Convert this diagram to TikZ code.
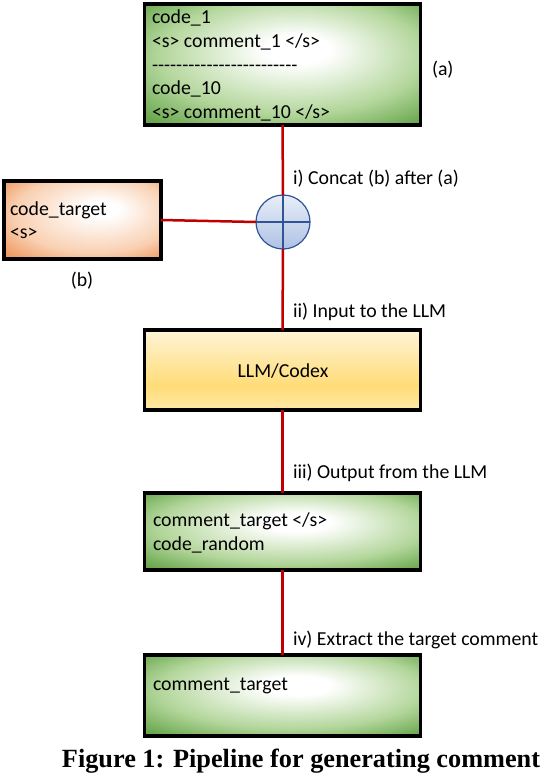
\documentclass[tikz,border=0pt]{standalone}
\usepackage{fontspec}
\setmainfont{Carlito}
\newfontfamily\capfont{Liberation Serif}
\usepackage{graphicx}
\definecolor{gdark}{HTML}{6AA84F}
\definecolor{gmid}{HTML}{B3D69B}
\definecolor{odark}{HTML}{EE9458}
\definecolor{omid}{HTML}{F9D0B2}
\definecolor{ytop}{HTML}{FFF5D6}
\definecolor{ymid}{HTML}{FFDC78}
\definecolor{ybot}{HTML}{FFE9A8}
\definecolor{btop}{HTML}{E8EEF8}
\definecolor{bbot}{HTML}{AFC2E4}
\definecolor{bline}{HTML}{2F5597}
\definecolor{lred}{HTML}{C00000}
\pgfdeclareradialshading{gshade}{\pgfpoint{3bp}{7bp}}{color(0bp)=(white); color(6bp)=(white); color(24bp)=(gmid); color(35bp)=(gdark); color(50bp)=(gdark)}
\pgfdeclareradialshading{oshade}{\pgfpoint{7bp}{8bp}}{color(0bp)=(white); color(5bp)=(white); color(25bp)=(omid); color(37bp)=(odark); color(50bp)=(odark)}
\pgfdeclareverticalshading{yshade}{100bp}{color(0bp)=(ybot); color(25bp)=(ybot); color(40bp)=(ymid); color(75bp)=(ytop); color(100bp)=(ytop)}
\pgfdeclareverticalshading{bshade}{100bp}{color(0bp)=(bbot); color(25bp)=(bbot); color(75bp)=(btop); color(100bp)=(btop)}
\newcommand{\dashrow}{-{}-{}-{}-{}-{}-{}-{}-{}-{}-{}-{}-{}-{}-{}-{}-{}-{}-{}-{}-{}-{}-{}-{}-}
\begin{document}
\begin{tikzpicture}[x=1pt,y=-1pt,
  every node/.style={font=\fontsize{19.8}{23.5}\selectfont, inner sep=0pt, outer sep=0pt},
  boxstyle/.style={draw=black, line width=3.5pt, rectangle, shade},
  link/.style={draw=lred, line width=2.5pt},
  txt/.style={anchor=base west},
  lbl/.style={anchor=base west}]
\useasboundingbox (0,0) rectangle (542,776);
% boxes
\node[boxstyle, shading=gshade, minimum width=276pt, minimum height=121pt] (boxA) at (282.5,64.5) {};
\node[boxstyle, shading=oshade, minimum width=157pt, minimum height=78pt] (boxB) at (82.5,220) {};
\node[draw=bline, line width=1.2pt, circle, shade, shading=bshade, minimum size=54pt] (join) at (283,222) {};
\node[boxstyle, shading=yshade, minimum width=276pt, minimum height=80pt] (llm) at (282.5,370) {};
\node[boxstyle, shading=gshade, minimum width=276pt, minimum height=77pt] (out) at (282.5,531.5) {};
\node[boxstyle, shading=gshade, minimum width=276pt, minimum height=81pt] (res) at (282.5,695.5) {};
% cross in circle
\draw[bline, line width=1.2pt] (join.north) -- (join.south);
\draw[bline, line width=1.2pt] (join.west) -- (join.east);
% connectors
\draw[link] (boxA.south) -- (join.north);
\draw[link] (boxB.east) -- (join.west);
\draw[link] (join.south) -- (llm.north);
\draw[link] (llm.south) -- (out.north);
\draw[link] (out.south) -- (res.north);
% texts in box A
\node[txt] (a1) at (152,24) {code\_1};
\node[txt] (a2) at (152,47.5) {<s> comment\_1 </s>};
\node[txt] (a3) at (152,71) {\dashrow};
\node[txt] (a4) at (152,94.5) {code\_10};
\node[txt] (a5) at (152,118) {<s> comment\_10 </s>};
\node[lbl] (la) at (432,75) {(a)};
% texts in box B
\node[txt] (b1) at (10,215) {code\_target};
\node[txt] (b2) at (10,238) {<s>};
\node[anchor=base] (lb) at (82,286) {(b)};
% step labels
\node[lbl] (s1) at (293,184) {i) Concat (b) after (a)};
\node[lbl] (s2) at (293,317) {ii) Input to the LLM};
\node[anchor=base] (llmtext) at (283,377) {LLM/Codex};
\node[lbl] (s3) at (293,478) {iii) Output from the LLM};
\node[txt] (o1) at (153,526) {comment\_target </s>};
\node[txt] (o2) at (153,550) {code\_random};
\node[lbl] (s4) at (293,645) {iv) Extract the target comment};
\node[txt] (r1) at (153,690) {comment\_target};
% caption
\node[anchor=base] (cap) at (301,767) {\resizebox{478pt}{!}{\capfont\bfseries Figure 1: Pipeline for generating comment}};
\end{tikzpicture}
\end{document}
